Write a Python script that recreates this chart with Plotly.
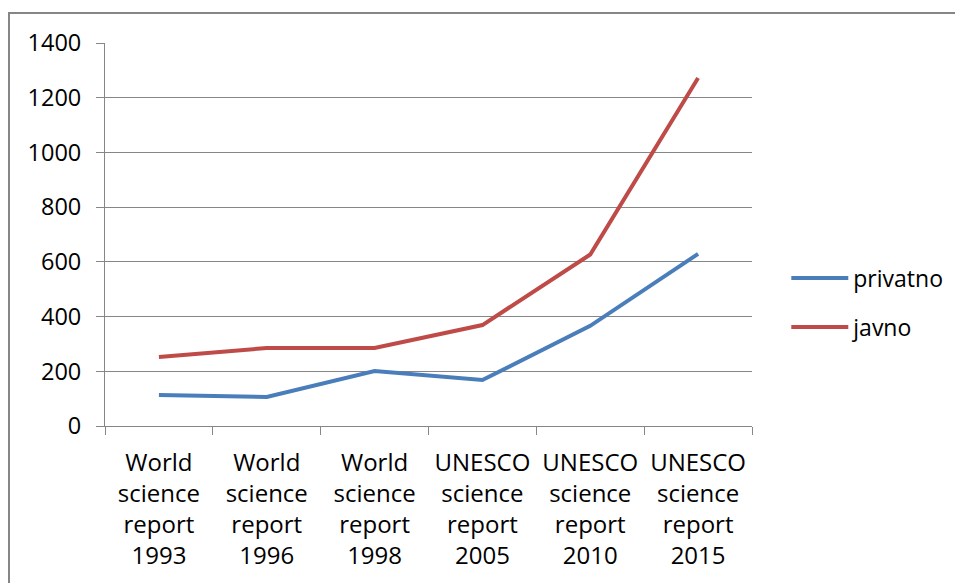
import plotly.graph_objects as go

categories = ["World<br>science<br>report<br>1993", "World<br>science<br>report<br>1996",
              "World<br>science<br>report<br>1998", "UNESCO<br>science<br>report<br>2005",
              "UNESCO<br>science<br>report<br>2010", "UNESCO<br>science<br>report<br>2015"]
privatno = [113, 106, 201, 168, 366, 629]
javno = [252, 285, 285, 369, 627, 1272]
y_ticks = [0, 200, 400, 600, 800, 1000, 1200, 1400]

GRID = "#868686"
FONT = dict(family="Open Sans", size=23.5, color="#000000")
XFONT = dict(family="Open Sans", size=24, color="#000000")

W, H = 955, 575
L, T, PW, PH = 97, 35, 647, 383

fig = go.Figure()
fig.add_trace(go.Scatter(x=categories, y=privatno, name="privatno", mode="lines",
                         legendgroup="a", line=dict(color="#4A7EBB", width=4)))
fig.add_trace(go.Scatter(x=categories, y=javno, name="javno", mode="lines",
                         legendgroup="b", line=dict(color="#BE4B48", width=4)))

fig.update_layout(
    width=W, height=H,
    margin=dict(l=L, r=W - L - PW, t=T, b=H - T - PH),
    paper_bgcolor="white", plot_bgcolor="white",
    font=FONT,
    showlegend=True,
    legend=dict(x=1.053, y=0.322, xanchor="left", yanchor="middle",
                font=dict(family="Open Sans", size=23, color="#000000"),
                tracegroupgap=16, itemwidth=57, bgcolor="rgba(0,0,0,0)"),
    xaxis=dict(type="category", range=[-0.5, 5.5], showgrid=False,
               showline=True, linecolor=GRID, linewidth=1,
               ticks="outside", tickson="boundaries", ticklen=8, tickcolor=GRID,
               tickfont=XFONT, tickangle=0, fixedrange=True, ticklabelstandoff=15),
    yaxis=dict(range=[0, 1400], tickvals=y_ticks, showgrid=True, gridcolor=GRID, gridwidth=1,
               showline=True, linecolor=GRID, linewidth=1, zeroline=False,
               ticks="outside", ticklen=8, tickcolor=GRID, tickfont=FONT,
               ticklabelstandoff=10),
    shapes=[dict(type="rect", xref="paper", yref="paper",
                 x0=(1 - L) / PW, x1=(W + 10 - L) / PW,
                 y0=(T + PH - (H + 10)) / PH, y1=(T + PH - 5) / PH,
                 line=dict(color=GRID, width=2), fillcolor="rgba(0,0,0,0)", layer="below")],
)

fig.write_html("out.html")
